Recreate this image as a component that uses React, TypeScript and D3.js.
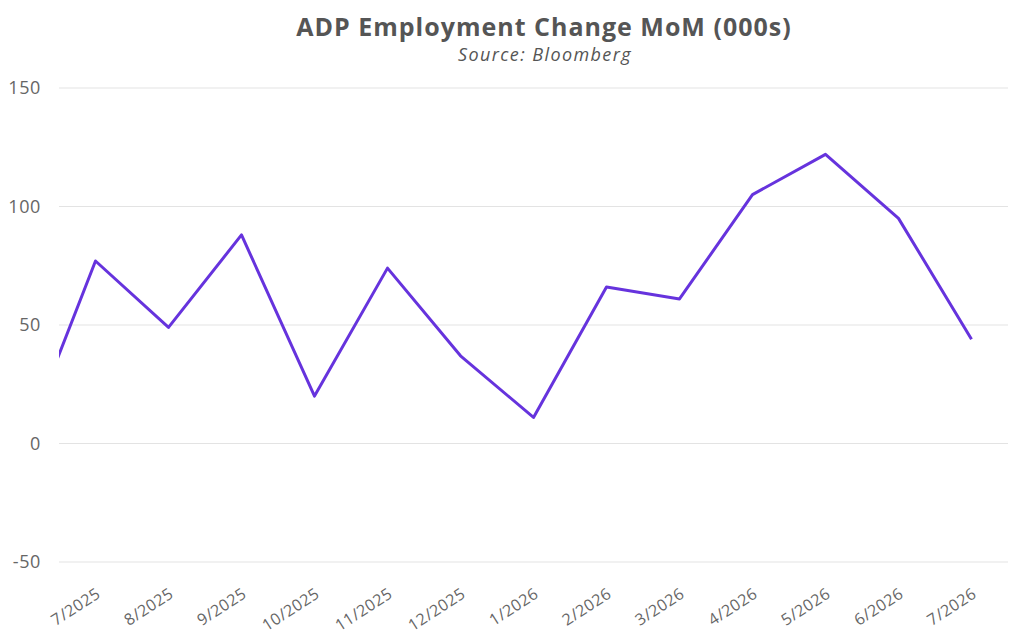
import React from "react";
import * as d3 from "d3";

const categories = ["6/2025", "7/2025", "8/2025", "9/2025", "10/2025", "11/2025", "12/2025", "1/2026", "2/2026", "3/2026", "4/2026", "5/2026", "6/2026", "7/2026"];
const values = [-2, 77, 49, 88, 20, 74, 37, 11, 66, 61, 105, 122, 95, 44];
const yTicks = [-50, 0, 50, 100, 150];

const W = 1024;
const H = 642;
const left = 59;
const right = 1008;
const top = 88;
const bottom = 562;

export default function App() {
  const n = categories.length;
  const x = d3.scaleLinear().domain([0.5, n - 0.5]).range([left, right]);
  const y = d3.scaleLinear().domain([-50, 150]).range([bottom, top]);
  const line = d3
    .line<number>()
    .x((_, i) => x(i))
    .y((d) => y(d));
  const font = "'Open Sans', Lato, sans-serif";
  return (
    <svg width={W} height={H} style={{ position: "absolute", left: 0, top: 0 }}>
      <rect width={W} height={H} fill="#fff" />
      <defs>
        <clipPath id="plot">
          <rect x={left} y={0} width={right - left} height={H} />
        </clipPath>
      </defs>
      <text x={544} y={36} textAnchor="middle" fontFamily={font} fontWeight={700} fontSize={25} letterSpacing={1} fill="#555">
        ADP Employment Change MoM (000s)
      </text>
      <text x={545} y={61} textAnchor="middle" fontFamily={font} fontStyle="italic" fontSize={18} letterSpacing={1.4} fill="#555">
        Source: Bloomberg
      </text>
      {yTicks.map((t) => (
        <g key={t}>
          <line x1={left} x2={right} y1={y(t)} y2={y(t)} stroke="#e3e3e3" strokeWidth={1} />
          <text x={41} y={y(t)} dy="0.35em" textAnchor="end" fontFamily={font} fontSize={18} letterSpacing={0.6} fill="#666">
            {t}
          </text>
        </g>
      ))}
      {categories.slice(1).map((c, j) => {
        const i = j + 1;
        const tx = x(i);
        const ty = 587;
        return (
          <text
            key={c}
            x={tx}
            y={ty}
            textAnchor="end"
            fontFamily={font}
            fontSize={16}
            letterSpacing={0.5}
            fill="#666"
            transform={`rotate(-33, ${tx}, ${ty})`}
            dy="0.7em"
          >
            {c}
          </text>
        );
      })}
      <path d={line(values) || ""} fill="none" stroke="#6633dd" strokeWidth={3} strokeLinejoin="round" clipPath="url(#plot)" />
    </svg>
  );
}
